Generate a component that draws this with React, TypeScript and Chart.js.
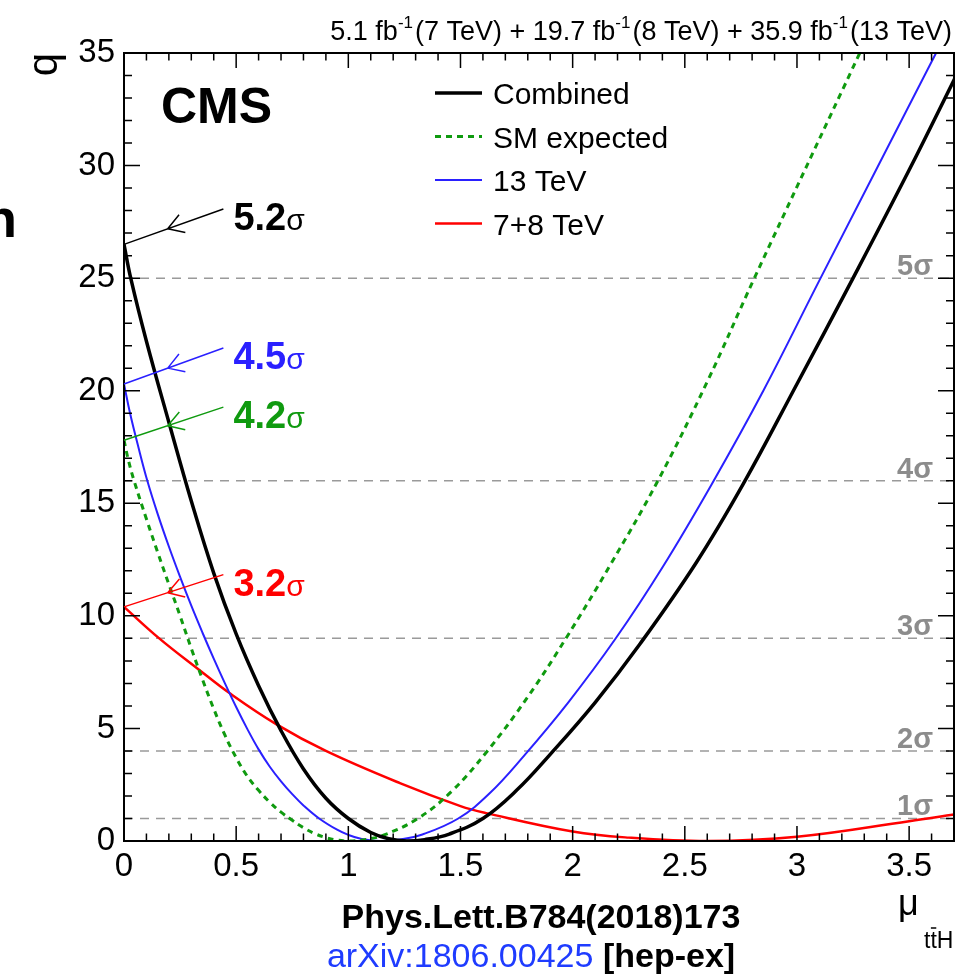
import React, { useEffect, useRef } from 'react';
import { Chart, registerables } from 'chart.js';

Chart.register(...registerables);

// ---- data ----
const muCombined = [0, 0.03, 0.1, 0.2, 0.3, 0.4, 0.5, 0.6, 0.7, 0.8, 0.9, 1.0, 1.1, 1.18, 1.26, 1.34, 1.45, 1.6, 1.75, 1.9, 2.1, 2.3, 2.55, 2.76, 3.0, 3.25, 3.5, 3.705];
const qCombined = [26.5, 25.0, 22.2, 18.6, 15.1, 11.9, 9.2, 6.9, 4.9, 3.2, 1.9, 1.0, 0.38, 0.1, 0, 0.06, 0.31, 1.0, 2.25, 3.85, 6.15, 8.75, 12.35, 15.85, 20.3, 25.0, 29.8, 33.9];

const muSM = [0, 0.02, 0.045, 0.1, 0.15, 0.2, 0.25, 0.3, 0.35, 0.4, 0.45, 0.5, 0.55, 0.6, 0.65, 0.7, 0.75, 0.8, 0.85, 0.9, 0.95, 1.0, 1.08, 1.16, 1.31, 1.46, 1.62, 1.8, 1.97, 2.17, 2.38, 2.6, 2.81, 3.28];
const qSM = [17.8, 16.9, 16.0, 14.3, 12.83, 11.4, 10.0, 8.55, 7.17, 5.87, 4.7, 3.7, 2.87, 2.25, 1.72, 1.28, 0.92, 0.59, 0.33, 0.15, 0.04, 0, 0.07, 0.27, 1.0, 2.2, 4.0, 6.4, 9.0, 12.3, 16.0, 20.4, 25.0, 35.0];

const mu13 = [0, 0.027, 0.064, 0.104, 0.15, 0.2, 0.25, 0.3, 0.35, 0.4, 0.45, 0.5, 0.55, 0.6, 0.65, 0.7, 0.75, 0.8, 0.87, 0.95, 1.0, 1.06, 1.14, 1.23, 1.33, 1.49, 1.63, 1.78, 1.98, 2.19, 2.4, 2.62, 2.85, 3.1, 3.62];
const q13 = [20.3, 19.0, 17.5, 16.0, 14.53, 13.08, 11.73, 10.45, 9.25, 8.1, 7.0, 5.95, 4.97, 4.07, 3.3, 2.65, 2.08, 1.58, 1.0, 0.5, 0.27, 0.09, 0, 0.07, 0.29, 1.0, 2.12, 3.75, 6.15, 8.97, 12.15, 15.85, 20.0, 24.9, 35.0];

const mu78 = [0, 0.157, 0.33, 0.47, 0.68, 0.9, 1.23, 1.5, 1.61, 2.0, 2.25, 2.6, 3.0, 3.5, 3.7];
const q78 = [10.4, 9.0, 7.64, 6.57, 5.18, 4.0, 2.57, 1.55, 1.25, 0.42, 0.15, 0, 0.19, 0.88, 1.18];

const seriesNames = ['Combined', 'SM expected', '13 TeV', '7+8 TeV'];
const significanceLabels = ['5.2', '4.2', '4.5', '3.2'];
const sigmaLevels = [1, 2, 3, 4, 5];

const xTicks = [0, 0.5, 1, 1.5, 2, 2.5, 3, 3.5];
const yTicks = [0, 5, 10, 15, 20, 25, 30, 35];
const xMin = 0, xMax = 3.7, yMin = 0, yMax = 35;
const xMinorStep = 0.1, yMinorStep = 1;

// ---- styles ----
const FONT = '"Liberation Sans", Arial, Helvetica, sans-serif';
const BLACK = '#000000';
const GREEN = '#0f9a0f';
const BLUE = '#2a20ff';
const RED = '#ff0000';
const GRAY = '#8c8c8c';

const seriesStyles = [
  { color: BLACK, width: 3.5, dash: [] as number[] },
  { color: GREEN, width: 3, dash: [6, 5] },
  { color: BLUE, width: 2, dash: [] as number[] },
  { color: RED, width: 2.5, dash: [] as number[] },
];

// arrow end points (data coordinates) for the significance annotations, in dataset order
const arrowEnds = [
  { x: 0.443, y: 28.07 },
  { x: 0.443, y: 19.27 },
  { x: 0.443, y: 21.9 },
  { x: 0.443, y: 11.83 },
];

function toXY(xs: number[], ys: number[]) {
  return xs.map((x, i) => ({ x, y: ys[i] }));
}

function drawArrow(ctx: CanvasRenderingContext2D, x0: number, y0: number, x1: number, y1: number, color: string) {
  ctx.save();
  ctx.strokeStyle = color;
  ctx.lineWidth = 1.5;
  ctx.setLineDash([]);
  ctx.beginPath();
  ctx.moveTo(x0, y0);
  ctx.lineTo(x1, y1);
  const dx = x1 - x0, dy = y1 - y0;
  const len = Math.hypot(dx, dy);
  const ux = dx / len, uy = dy / len;
  const vx = x0 + ux * len * 0.44, vy = y0 + uy * len * 0.44;
  const wl = 18, ang = 0.55;
  for (const s of [1, -1]) {
    const c = Math.cos(s * ang), sn = Math.sin(s * ang);
    const wx = ux * c - uy * sn, wy = ux * sn + uy * c;
    ctx.moveTo(vx, vy);
    ctx.lineTo(vx + wx * wl, vy + wy * wl);
  }
  ctx.stroke();
  ctx.restore();
}

const rootPlugin = {
  id: 'rootStyle',
  beforeDatasetsDraw(chart: any) {
    const { ctx, chartArea: a, scales } = chart;
    const y = scales.y;
    ctx.save();
    ctx.strokeStyle = '#9a9a9a';
    ctx.lineWidth = 1.5;
    ctx.setLineDash([9, 7]);
    for (const n of sigmaLevels) {
      const py = y.getPixelForValue(n * n);
      ctx.beginPath();
      ctx.moveTo(a.left, py);
      ctx.lineTo(a.right, py);
      ctx.stroke();
    }
    ctx.restore();
  },
  afterDatasetsDraw(chart: any) {
    const { ctx, chartArea: a, scales } = chart;
    const x = scales.x, y = scales.y;
    ctx.save();

    // sigma level labels
    ctx.fillStyle = GRAY;
    ctx.textBaseline = 'alphabetic';
    for (const n of sigmaLevels) {
      const py = y.getPixelForValue(n * n) - 3;
      ctx.font = `bold 29px ${FONT}`;
      const s = 'σ';
      const sw = ctx.measureText(s).width;
      const num = String(n);
      const nw = ctx.measureText(num).width;
      const right = a.right - 21;
      ctx.fillText(s, right - sw, py);
      ctx.fillText(num, right - sw - nw, py);
    }

    // ticks on all four sides, pointing inward
    ctx.strokeStyle = BLACK;
    ctx.lineWidth = 1.5;
    ctx.setLineDash([]);
    ctx.beginPath();
    const nx = Math.round((xMax - xMin) / xMinorStep);
    for (let i = 0; i <= nx; i++) {
      const v = xMin + i * xMinorStep;
      const px = x.getPixelForValue(v);
      const L = i % 5 === 0 ? 15 : 7.5;
      ctx.moveTo(px, a.bottom); ctx.lineTo(px, a.bottom - L);
      ctx.moveTo(px, a.top); ctx.lineTo(px, a.top + L);
    }
    const ny = Math.round((yMax - yMin) / yMinorStep);
    for (let i = 0; i <= ny; i++) {
      const v = yMin + i * yMinorStep;
      const py = y.getPixelForValue(v);
      const L = i % 5 === 0 ? 16 : 8;
      ctx.moveTo(a.left, py); ctx.lineTo(a.left + L, py);
      ctx.moveTo(a.right, py); ctx.lineTo(a.right - L, py);
    }
    ctx.stroke();
    ctx.lineWidth = 2;
    ctx.strokeRect(a.left, a.top, a.right - a.left, a.bottom - a.top);

    // CMS label
    ctx.fillStyle = BLACK;
    ctx.font = `bold 50px ${FONT}`;
    ctx.fillText('CMS', 161, 123);

    // legend
    const datasets = chart.data.datasets;
    for (let i = 0; i < datasets.length; i++) {
      const d = datasets[i];
      const cy = 93 + 43.5 * i;
      ctx.strokeStyle = d.borderColor;
      ctx.lineWidth = d.borderWidth;
      ctx.setLineDash(d.borderDash || []);
      ctx.beginPath();
      ctx.moveTo(435, cy);
      ctx.lineTo(482, cy);
      ctx.stroke();
      ctx.setLineDash([]);
      ctx.fillStyle = BLACK;
      ctx.font = `30px ${FONT}`;
      ctx.fillText(d.label, 493, cy + 11);
    }

    // significance arrows and labels
    for (let i = 0; i < datasets.length; i++) {
      const d = datasets[i];
      const p0 = d.data[0];
      const x0 = x.getPixelForValue(p0.x), y0 = y.getPixelForValue(p0.y);
      const x1 = x.getPixelForValue(arrowEnds[i].x), y1 = y.getPixelForValue(arrowEnds[i].y);
      drawArrow(ctx, x0, y0, x1, y1, d.borderColor);
      ctx.fillStyle = d.borderColor;
      ctx.font = `bold 38px ${FONT}`;
      const t = significanceLabels[i];
      const tx = x1 + 10, ty = y1 + 21;
      ctx.fillText(t, tx, ty);
      const tw = ctx.measureText(t).width;
      ctx.font = `30px ${FONT}`;
      ctx.fillText('σ', tx + tw, ty);
    }

    ctx.restore();
  },
  afterDraw(chart: any) {
    const { ctx } = chart;
    ctx.save();
    ctx.fillStyle = BLACK;
    ctx.textBaseline = 'alphabetic';
    // luminosity text with superscripts
    const parts: { t: string; sup?: boolean }[] = [
      { t: '5.1 fb' }, { t: '-1', sup: true }, { t: '(7 TeV) + 19.7 fb' }, { t: '-1', sup: true },
      { t: '(8 TeV) + 35.9 fb' }, { t: '-1', sup: true }, { t: '(13 TeV)' },
    ];
    const big = `27px ${FONT}`, small = `17px ${FONT}`;
    let total = 0;
    for (const p of parts) {
      ctx.font = p.sup ? small : big;
      total += ctx.measureText(p.t).width + (p.sup ? 2 : 0);
    }
    let cx = 952 - total;
    const base = 40;
    for (const p of parts) {
      ctx.font = p.sup ? small : big;
      ctx.fillText(p.t, cx, p.sup ? base - 12 : base);
      cx += ctx.measureText(p.t).width + (p.sup ? 2 : 0);
    }

    // x axis title: mu_{t tbar H}
    ctx.font = `36px ${FONT}`;
    ctx.fillText('μ', 898, 915);
    ctx.font = `23px ${FONT}`;
    const sx = 924, sb = 948;
    ctx.fillText('ttH', sx, sb);
    const tW = ctx.measureText('t').width;
    ctx.lineWidth = 1.5;
    ctx.strokeStyle = BLACK;
    ctx.beginPath();
    ctx.moveTo(sx + tW + 0.5, sb - 20);
    ctx.lineTo(sx + 2 * tW - 0.5, sb - 20);
    ctx.stroke();
    ctx.restore();
  },
};

export default function App() {
  const ref = useRef<HTMLCanvasElement | null>(null);

  useEffect(() => {
    if (!ref.current) return;
    const series = [toXY(muCombined, qCombined), toXY(muSM, qSM), toXY(mu13, q13), toXY(mu78, q78)];
    const chart = new Chart(ref.current, {
      type: 'line',
      data: {
        datasets: series.map((data, i) => ({
          label: seriesNames[i],
          data,
          borderColor: seriesStyles[i].color,
          borderWidth: seriesStyles[i].width,
          borderDash: seriesStyles[i].dash,
          pointRadius: 0,
          fill: false,
          tension: 0.4,
        })),
      },
      options: {
        animation: false,
        responsive: false,
        maintainAspectRatio: false,
        layout: { padding: { left: 0, top: 53, right: 26, bottom: 0 } },
        plugins: { legend: { display: false }, tooltip: { enabled: false } },
        scales: {
          x: {
            type: 'linear',
            min: xMin,
            max: xMax,
            grid: { display: false, drawTicks: false },
            border: { display: false },
            ticks: { color: BLACK, font: { family: FONT, size: 33 }, padding: 6, maxRotation: 0, callback: (v: any) => String(v) },
            afterBuildTicks: (s: any) => { s.ticks = xTicks.map((v) => ({ value: v })); },
            afterFit: (s: any) => { s.height = 133; },
          },
          y: {
            type: 'linear',
            min: yMin,
            max: yMax,
            grid: { display: false, drawTicks: false },
            border: { display: false },
            ticks: { color: BLACK, font: { family: FONT, size: 33 }, padding: 9, callback: (v: any) => String(v) },
            afterBuildTicks: (s: any) => { s.ticks = yTicks.map((v) => ({ value: v })); },
            afterFit: (s: any) => { s.width = 124; },
            title: { display: true, text: 'q', align: 'end', color: BLACK, font: { family: FONT, size: 42 }, padding: { top: 20, bottom: 0 } },
          },
        },
      },
      plugins: [rootPlugin],
    });
    return () => chart.destroy();
  }, []);

  return (
    <div style={{ position: 'absolute', left: 0, top: 0, width: 980, height: 974, background: '#fff', overflow: 'hidden' }}>
      <canvas ref={ref} width={980} height={974} style={{ width: 980, height: 974, display: 'block' }} />
      <div style={{ position: 'absolute', left: -300, top: 191, width: 317, textAlign: 'right', font: `bold 54px/54px ${FONT}`, color: '#000' }}>n</div>
      <div style={{ position: 'absolute', left: 141, top: 899, width: 800, textAlign: 'center', font: `bold 34px/34px ${FONT}`, color: '#000', whiteSpace: 'nowrap' }}>
        Phys.Lett.B784(2018)173
      </div>
      <div style={{ position: 'absolute', left: 131, top: 938, width: 800, textAlign: 'center', font: `34px/34px ${FONT}`, whiteSpace: 'nowrap' }}>
        <span style={{ color: '#1f3cff' }}>arXiv:1806.00425</span>{' '}
        <span style={{ color: '#000', fontWeight: 'bold' }}>[hep-ex]</span>
      </div>
    </div>
  );
}
